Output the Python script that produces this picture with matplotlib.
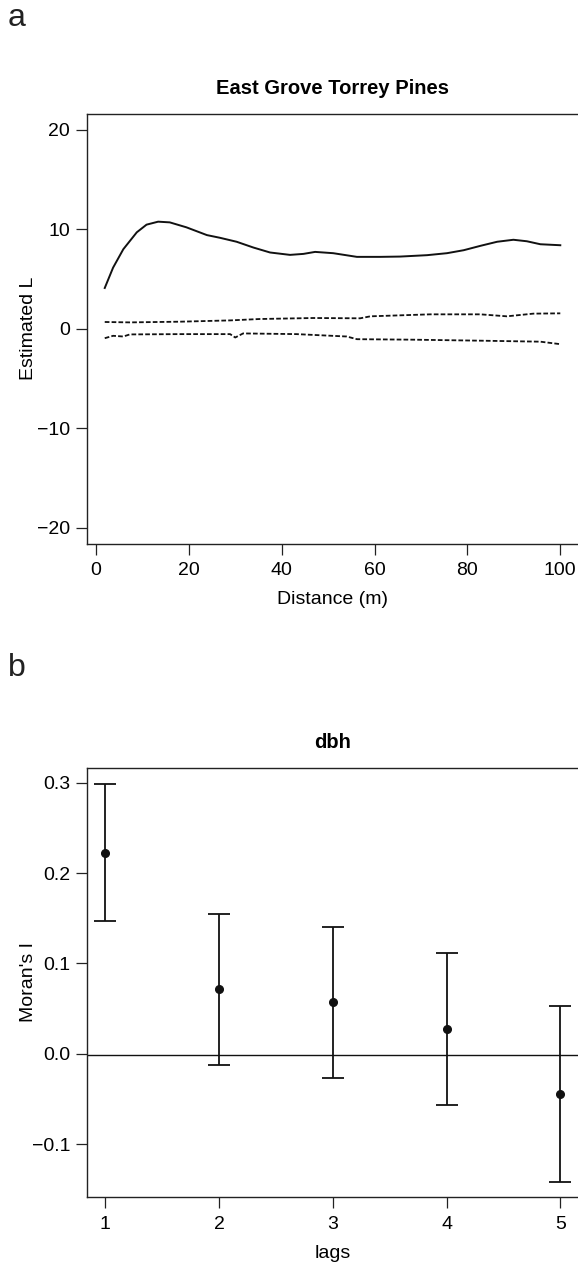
import matplotlib
matplotlib.use("Agg")
import matplotlib.pyplot as plt
import numpy as np

plt.rcParams['font.family'] = ['Liberation Sans', 'DejaVu Sans']

# Panel a: estimated L function
dist = [1.9, 3.7, 5.9, 8.8, 10.9, 13.4, 15.9, 19.5, 23.9, 26.7, 30.3, 33.9, 37.5,
        41.8, 44.7, 47.2, 51.1, 56.2, 61.2, 65.5, 71.3, 75.6, 79.2, 82.8, 86.4,
        89.9, 92.8, 95.7, 100]
L_obs = [4.1, 6.15, 8.0, 9.7, 10.47, 10.77, 10.7, 10.2, 9.42, 9.15, 8.75, 8.17, 7.67,
         7.43, 7.53, 7.73, 7.6, 7.23, 7.23, 7.26, 7.4, 7.6, 7.9, 8.34, 8.75,
         8.95, 8.8, 8.5, 8.4]
dist_up = [1.9, 7.3, 18.1, 28.9, 35.3, 46.8, 56.9, 59.1, 72.0, 82.8, 88.5, 94.2, 100]
L_up = [0.68, 0.64, 0.71, 0.84, 0.98, 1.08, 1.05, 1.25, 1.45, 1.45, 1.25, 1.52, 1.55]
dist_lo = [1.9, 3.7, 5.9, 7.3, 18.1, 28.9, 30.0, 31.7, 43.2, 54.0, 56.2, 68.4, 82.8, 95.7, 100]
L_lo = [-0.95, -0.71, -0.78, -0.57, -0.54, -0.54, -0.88, -0.47, -0.54, -0.78, -1.05,
        -1.1, -1.2, -1.3, -1.55]
a_xticks = [0, 20, 40, 60, 80, 100]
a_yticks = [-20, -10, 0, 10, 20]

# Panel b: Moran's I correlogram
lags = [1, 2, 3, 4, 5]
moran = [0.222, 0.072, 0.057, 0.027, -0.045]
moran_lo = [0.147, -0.012, -0.027, -0.057, -0.1415]
moran_hi = [0.299, 0.155, 0.140, 0.111, 0.053]
expected_I = -0.0015
b_yticks = [-0.1, 0.0, 0.1, 0.2, 0.3]

W, H = 578, 1264
fig = plt.figure(figsize=(W / 100, H / 100), dpi=100)

def frac(l, t, r, b):
    return [l / W, 1 - b / H, (r - l) / W, (b - t) / H]

fs = 14
def style(ax, h_px):
    for s in ax.spines.values():
        s.set_linewidth(1.0)
        s.set_color('#222222')
    ax.tick_params(direction='out', length=7.7, width=0.9, labelsize=fs,
                   color='#222222')
    ax.tick_params(axis='x', pad=5.5)
    ax.tick_params(axis='y', pad=4.5)
    ax.xaxis.set_label_coords(0.5, -56 / h_px)
    ax.xaxis.label.set_va('center')
    ax.yaxis.set_label_coords((28.5 - 87) / 491.5, 0.5)
    ax.yaxis.label.set_va('center')

ax1 = fig.add_axes(frac(87, 114, 578.5, 543.5))
ax1.plot(dist, L_obs, color='#111111', lw=1.4)
ax1.plot(dist_up, L_up, color='#111111', lw=1.3, dashes=(2.6, 1.2))
ax1.plot(dist_lo, L_lo, color='#111111', lw=1.3, dashes=(2.6, 1.2))
ax1.set_xlim(-1.92, 103.92)
ax1.set_ylim(-21.6, 21.6)
ax1.set_xticks(a_xticks)
ax1.set_yticks(a_yticks)
ax1.set_xlabel('Distance (m)', fontsize=fs)
ax1.set_ylabel('Estimated L', fontsize=fs)
ax1.set_title('East Grove Torrey Pines', fontsize=14.5, fontweight='bold', pad=14.3)
style(ax1, 543.5 - 114)

ax2 = fig.add_axes(frac(87, 767.7, 578.5, 1197.3))
ax2.axhline(expected_I, color='#111111', lw=1.0)
yerr = [np.array(moran) - np.array(moran_lo), np.array(moran_hi) - np.array(moran)]
ax2.errorbar(lags, moran, yerr=yerr, fmt='o', color='#111111', ms=5.5,
             elinewidth=1.3, capsize=8, capthick=1.3)
ax2.set_xlim(0.84, 5.16)
ax2.set_ylim(-0.1589, 0.3166)
ax2.set_xticks(lags)
ax2.set_yticks(b_yticks)
ax2.set_yticklabels(['\u22120.1', '0.0', '0.1', '0.2', '0.3'])
ax2.set_xlabel('lags', fontsize=fs)
ax2.set_ylabel("Moran's I", fontsize=fs)
ax2.set_title('dbh', fontsize=14.5, fontweight='bold', pad=14.3)
style(ax2, 1197.3 - 767.7)

fig.text(17 / W, 1 - 18 / H, 'a', fontsize=23, ha='center', va='center', color='#222222')
fig.text(17 / W, 1 - 668 / H, 'b', fontsize=23, ha='center', va='center', color='#222222')

fig.savefig('out.png', dpi=100)
